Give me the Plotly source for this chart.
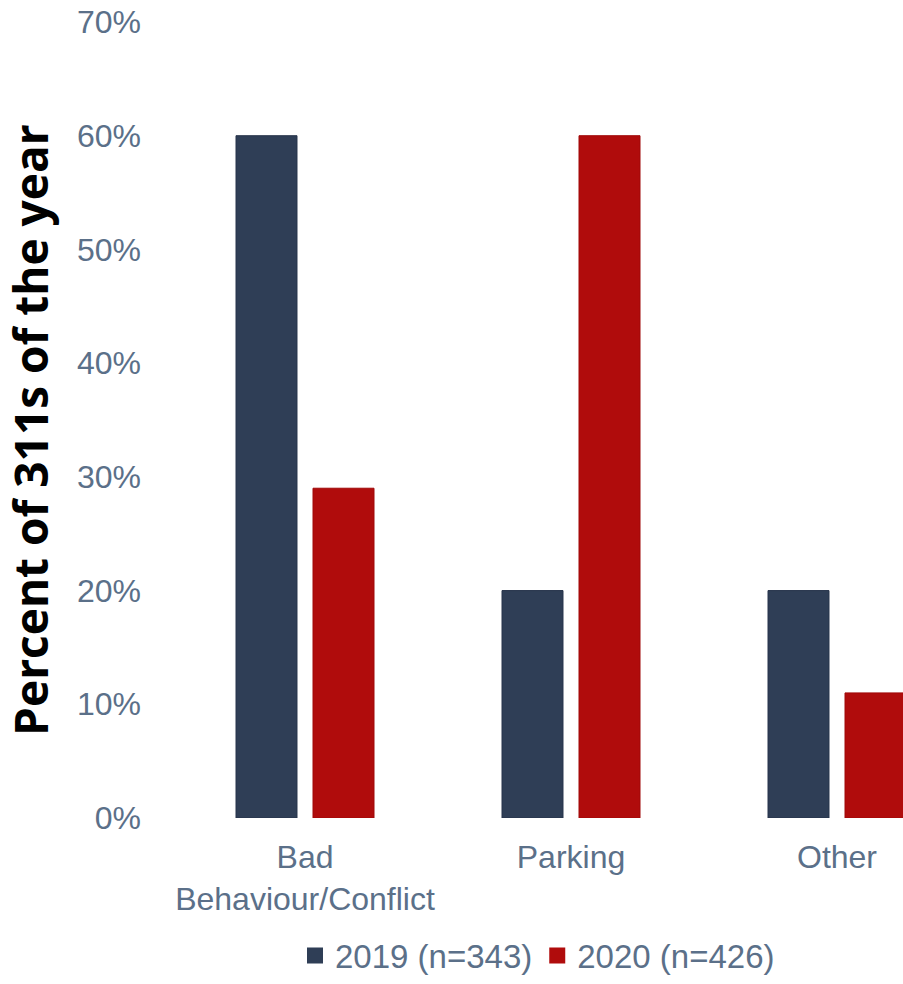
import plotly.graph_objects as go

categories = ["Bad<br>Behaviour/Conflict", "Parking", "Other"]
series_2019 = [0.60, 0.20, 0.20]
series_2020 = [0.29, 0.60, 0.11]
name_2019 = "2019 (n=343)"
name_2020 = "2020 (n=426)"
y_ticks = [0, 0.1, 0.2, 0.3, 0.4, 0.5, 0.6, 0.7]
y_title = "Percent of 311s of the year"

text_color = "#5b7089"
font_family = "Liberation Sans, Arial, sans-serif"
c2019 = "#2f3e56"
c2020 = "#b00c0c"

W, H = 903, 984
L, T, B = 172, 22, 158
PW = W - L
PH = H - T - B
BOTTOM = T + PH

fig = go.Figure()
fig.add_trace(go.Bar(x=categories, y=series_2019, name=name_2019, showlegend=False,
                     marker=dict(color=c2019, line=dict(color="#26334a", width=1))))
fig.add_trace(go.Bar(x=categories, y=series_2020, name=name_2020, showlegend=False,
                     marker=dict(color=c2020, line=dict(color="#a00808", width=1))))
# legend entries with larger square symbols
fig.add_trace(go.Scatter(x=[None], y=[None], mode="markers", name=name_2019,
                         marker=dict(symbol="square", size=20, color=c2019)))
fig.add_trace(go.Scatter(x=[None], y=[None], mode="markers", name=name_2020,
                         marker=dict(symbol="square", size=20, color=c2020)))

fig.add_annotation(text=y_title, xref="paper", yref="paper",
                   x=(30 - L) / PW, y=(BOTTOM - 435) / PH,
                   xanchor="center", yanchor="middle", textangle=-90, showarrow=False,
                   font=dict(family="Open Sans, sans-serif", size=46,
                             color="#000000", weight="bold"))

fig.update_layout(
    width=W, height=H,
    margin=dict(l=L, r=0, t=T, b=B),
    paper_bgcolor="white", plot_bgcolor="white",
    barmode="group", bargap=0.421, bargroupgap=0.208,
    font=dict(family=font_family, size=32, color=text_color),
    showlegend=True,
    legend=dict(orientation="h", x=0.5, xanchor="center", y=-(965 - BOTTOM) / PH,
                yanchor="middle",
                font=dict(size=33, color=text_color), itemsizing="trace",
                tracegroupgap=0),
    xaxis=dict(range=[-0.5, -0.5 + PW / 266], showline=False, showgrid=False,
               zeroline=False, automargin=False,
               ticks="", tickfont=dict(size=32, color=text_color), ticklabelstandoff=17),
    yaxis=dict(range=[0, 0.7], tickvals=y_ticks, tickformat=".0%", showgrid=False,
               zeroline=False, showline=False, ticks="", ticklabelstandoff=30,
               automargin=False, ticklabeloverflow="allow",
               tickfont=dict(size=32, color=text_color)),
)

fig.write_html("out.html", config={"displayModeBar": False},
               post_script="document.body.style.margin='0';document.body.style.overflow='hidden';")
